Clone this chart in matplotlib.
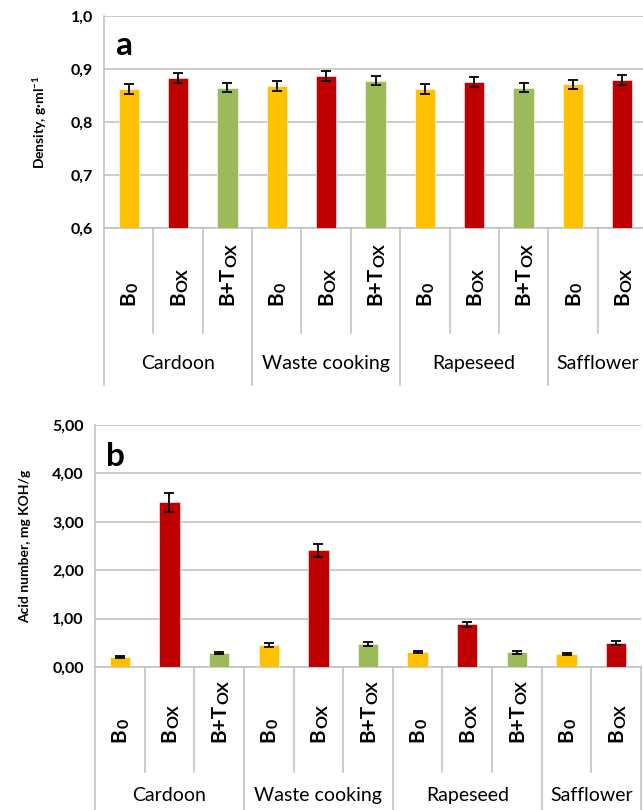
import matplotlib
matplotlib.use("Agg")
import matplotlib.pyplot as plt
from matplotlib.ticker import FuncFormatter
import matplotlib.transforms as mtransforms

plt.rcParams['font.family'] = ['Lato', 'DejaVu Sans']
plt.rcParams['mathtext.fontset'] = 'custom'
plt.rcParams['mathtext.rm'] = 'Lato'
plt.rcParams['mathtext.bf'] = 'Lato:bold'

# биодизельные образцы: 4 сырья, у сафлора нет B+Tox
groups = ['Cardoon', 'Waste cooking', 'Rapeseed', 'Safflower']
group_sizes = [3, 3, 3, 2]
samples = ['B0', 'Box', 'B+Tox'] * 3 + ['B0', 'Box']
# основная часть подписи и нижний индекс
sample_labels = {'B0': ('B', '0'), 'Box': ('B', 'OX'), 'B+Tox': ('B+T', 'OX')}

density = [0.862, 0.883, 0.865, 0.868, 0.887, 0.878, 0.862, 0.875, 0.865, 0.871, 0.879]
density_err = [0.009, 0.010, 0.009, 0.009, 0.010, 0.009, 0.009, 0.009, 0.009, 0.008, 0.009]

acid = [0.20, 3.40, 0.28, 0.46, 2.41, 0.48, 0.31, 0.88, 0.30, 0.26, 0.49]
acid_err = [0.02, 0.20, 0.02, 0.04, 0.14, 0.04, 0.03, 0.06, 0.03, 0.02, 0.04]

colors = {'B0': '#FFC000', 'Box': '#C00000', 'B+Tox': '#9BBB59'}
GRID = '#BFBFBF'

W, H = 643, 810
fig = plt.figure(figsize=(W / 100, H / 100), dpi=100)
renderer = fig.canvas.get_renderer()


def px_axes(left, top, right, bottom):
    return fig.add_axes([left / W, 1 - bottom / H, (right - left) / W, (bottom - top) / H])


def draw_panel(ax, values, errs, ylim, step, fmt, letter, lab_y, sep_y, grp_sep_y, grp_y):
    x = list(range(len(values)))
    bar_colors = [colors[s] for s in samples]
    ax.bar(x, values, width=0.41, color=bar_colors, edgecolor='white', linewidth=0.4, zorder=3)
    ax.errorbar(x, values, yerr=errs, fmt='none', ecolor='black', elinewidth=1.3,
                capsize=3.5, capthick=1.3, zorder=4)
    ax.set_xlim(-0.5, len(values) - 0.5)
    ax.set_ylim(*ylim)
    yt = []
    v = ylim[0]
    while v <= ylim[1] + 1e-9:
        yt.append(round(v, 4))
        v += step
    ax.set_yticks(yt)
    ax.yaxis.set_major_formatter(FuncFormatter(lambda val, pos: fmt.format(val).replace('.', ',')))
    ax.tick_params(axis='y', length=0, pad=8, labelsize=11.5)
    for t in ax.get_yticklabels():
        t.set_fontweight('bold')
    ax.set_xticks([])
    ax.grid(axis='y', color=GRID, linewidth=1.1, zorder=0)
    for s in ['top', 'right']:
        ax.spines[s].set_visible(False)
    for s in ['left', 'bottom']:
        ax.spines[s].set_color(GRID)
        ax.spines[s].set_linewidth(1.1)
    ax.text(0.02, 0.93, letter, transform=ax.transAxes, fontsize=24, fontweight='bold',
            va='top', ha='left')

    trans = mtransforms.blended_transform_factory(ax.transData, ax.transAxes)
    # подписи образцов: повернутый текст + индекс сдвинутый вниз по базовой линии
    for i, s in enumerate(samples):
        main, sub = sample_labels[s]
        t = ax.text(i, lab_y, main, transform=trans, rotation=90,
                    ha='center', va='bottom', fontsize=15, fontweight='bold')
        bb = t.get_window_extent(renderer)
        dx = (bb.width / 2 + 2) / fig.dpi
        dy = bb.height / fig.dpi
        off = mtransforms.ScaledTranslation(dx, dy, fig.dpi_scale_trans)
        ax.text(i, lab_y, sub, transform=trans + off, rotation=90,
                ha='right', va='bottom', fontsize=11.5, fontweight='bold')
    # границы между образцами и группами
    bounds = [-0.5]
    for n in group_sizes:
        bounds.append(bounds[-1] + n)
    for i in range(len(values) + 1):
        xb = i - 0.5
        y_end = grp_sep_y if xb in bounds else sep_y
        ax.plot([xb, xb], [0, y_end], transform=trans, color=GRID, lw=1.1, clip_on=False)
    for g, a, b in zip(groups, bounds[:-1], bounds[1:]):
        ax.text((a + b) / 2, grp_y, g, transform=trans, ha='center', va='center', fontsize=14)


ax_a = px_axes(104, 16, 647, 228)
draw_panel(ax_a, density, density_err, (0.6, 1.0), 0.1, '{:.1f}', 'a',
           lab_y=-0.365, sep_y=-0.495, grp_sep_y=-0.74, grp_y=-0.64)

ax_b = px_axes(95, 425, 641, 667)
draw_panel(ax_b, acid, acid_err, (0.0, 5.0), 1.0, '{:.2f}', 'b',
           lab_y=-0.31, sep_y=-0.434, grp_sep_y=-0.62, grp_y=-0.53)

fig.text(40 / W, 1 - 122 / H, r'Density, g·ml$^{\mathbf{-1}}$', rotation=90,
         ha='center', va='center', fontsize=10, fontweight='bold')
fig.text(25 / W, 1 - 546 / H, 'Acid number, mg KOH/g', rotation=90,
         ha='center', va='center', fontsize=10, fontweight='bold')

fig.savefig('out.png', dpi=100)
